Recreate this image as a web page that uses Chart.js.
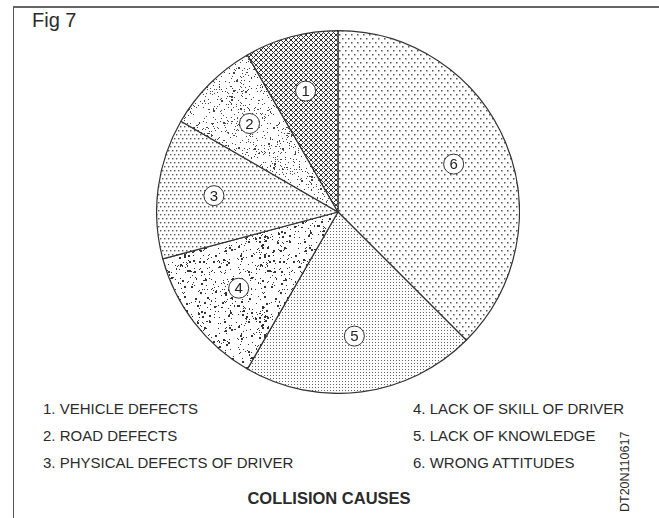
<!DOCTYPE html>
<html>
<head>
<meta charset="utf-8">
<script src="https://cdn.jsdelivr.net/npm/chart.js@4"></script>
<style>
  html, body { margin: 0; padding: 0; background: #fff; }
  body { width: 659px; height: 518px; position: relative; overflow: hidden;
         font-family: "Liberation Sans", Arial, sans-serif; color: #2b2b2b; }
  #frame { position: absolute; left: 13px; top: 6px; width: 660px; height: 520px;
           border-left: 1px solid #555; border-top: 2px solid #666; }
  #fig { position: absolute; left: 32px; top: 9px; font-size: 20px; }
  #chart { position: absolute; left: 156px; top: 30px; }
  .item { position: absolute; font-size: 15px; white-space: nowrap; }
  #title { position: absolute; left: 0; width: 658px; top: 489px; text-align: center;
           font-size: 16.5px; font-weight: bold; }
  #code { position: absolute; left: 618px; top: 512px; font-size: 12.5px; white-space: nowrap;
          transform-origin: 0 0; transform: rotate(-90deg); }
</style>
</head>
<body>
<div id="frame"></div>
<div id="fig">Fig 7</div>
<canvas id="chart" width="364" height="364"></canvas>
<div id="legend"></div>
<div id="title">COLLISION CAUSES</div>
<div id="code">DT20N110617</div>
<script>
const causeNumbers = ["1", "2", "3", "4", "5", "6"];
const causeNames = [
  "VEHICLE DEFECTS",
  "ROAD DEFECTS",
  "PHYSICAL DEFECTS OF DRIVER",
  "LACK OF SKILL OF DRIVER",
  "LACK OF KNOWLEDGE",
  "WRONG ATTITUDES",
];
// shares (30, 30, 45, 45, 75, 135 degrees)
const causeShares = [2, 2, 3, 3, 5, 9];

// legend text, two columns of three
const legend = document.getElementById("legend");
for (let i = 0; i < causeNames.length; i++) {
  const d = document.createElement("div");
  d.className = "item";
  d.textContent = causeNumbers[i] + ". " + causeNames[i];
  d.style.left = (i < 3 ? 43 : 413) + "px";
  d.style.top = (400 + (i % 3) * 27) + "px";
  legend.appendChild(d);
}

const canvas = document.getElementById("chart");
const ctx = canvas.getContext("2d");

// tiny seeded generator, only for the speckle textures
function seeded(seed) {
  return function () {
    seed |= 0; seed = (seed + 0x6d2b79f5) | 0;
    let t = Math.imul(seed ^ (seed >>> 15), 1 | seed);
    t = (t + Math.imul(t ^ (t >>> 7), 61 | t)) ^ t;
    return ((t ^ (t >>> 14)) >>> 0) / 4294967296;
  };
}

function tile(w, h, draw) {
  const c = document.createElement("canvas");
  c.width = w;
  c.height = h;
  const g = c.getContext("2d");
  g.fillStyle = "#fff";
  g.fillRect(0, 0, w, h);
  draw(g, w, h);
  return ctx.createPattern(c, "repeat");
}

function crosshatch(s) {
  return tile(s, s, (g) => {
    g.strokeStyle = "#333";
    g.lineWidth = 1;
    g.beginPath();
    for (let k = -1; k <= 1; k++) {
      g.moveTo(k * s, 0); g.lineTo(k * s + s, s);
      g.moveTo(k * s + s, 0); g.lineTo(k * s, s);
    }
    g.stroke();
  });
}

function dotGrid(dx, dy, size, color, stagger) {
  return tile(dx * 2, dy * 2, (g) => {
    g.fillStyle = color;
    for (let r = 0; r < 2; r++) {
      for (let c = 0; c < 2; c++) {
        const off = stagger && r % 2 ? dx / 2 : 0;
        g.fillRect(c * dx + off, r * dy, size, size);
      }
    }
  });
}

function speckle(seed, count, big, color) {
  const rnd = seeded(seed);
  return tile(80, 80, (g) => {
    g.fillStyle = color;
    for (let i = 0; i < count; i++) {
      const s = rnd() < big ? 2 : 1;
      g.fillRect(Math.floor(rnd() * 80), Math.floor(rnd() * 80), s, s);
    }
  });
}

const causeFills = [
  crosshatch(5),
  speckle(7, 520, 0.04, "#444"),
  dotGrid(4, 4, 1.4, "#555", true),
  speckle(19, 400, 0.22, "#333"),
  dotGrid(3, 3, 1, "#666", false),
  dotGrid(6, 4, 1.5, "#555", true),
];

// Chart.js goes clockwise from the top: 6, 5, 4, 3, 2, 1
const order = causeNumbers.map((_, i) => i).reverse();

const circledLabels = {
  id: "circledLabels",
  afterDatasetsDraw(chart) {
    const g = chart.ctx;
    const meta = chart.getDatasetMeta(0);
    meta.data.forEach((arc, j) => {
      const p = arc.getProps(["x", "y", "startAngle", "endAngle", "outerRadius"], true);
      const a = (p.startAngle + p.endAngle) / 2;
      const r = p.outerRadius * 0.69;
      const x = p.x + Math.cos(a) * r;
      const y = p.y + Math.sin(a) * r;
      g.save();
      g.beginPath();
      g.arc(x, y, 10, 0, Math.PI * 2);
      g.fillStyle = "#fff";
      g.fill();
      g.lineWidth = 1;
      g.strokeStyle = "#333";
      g.stroke();
      g.fillStyle = "#222";
      g.font = "15px 'Liberation Sans', Arial, sans-serif";
      g.textAlign = "center";
      g.textBaseline = "middle";
      g.fillText(chart.data.labels[j], x, y + 1);
      g.restore();
    });
  },
};

new Chart(canvas, {
  type: "pie",
  data: {
    labels: order.map((i) => causeNumbers[i]),
    datasets: [
      {
        data: order.map((i) => causeShares[i]),
        backgroundColor: order.map((i) => causeFills[i]),
        borderColor: "#333",
        borderWidth: 1.2,
        hoverOffset: 0,
      },
    ],
  },
  options: {
    responsive: false,
    animation: false,
    events: [],
    layout: { padding: 0 },
    plugins: {
      legend: { display: false },
      tooltip: { enabled: false },
    },
  },
  plugins: [circledLabels],
});
</script>
</body>
</html>
